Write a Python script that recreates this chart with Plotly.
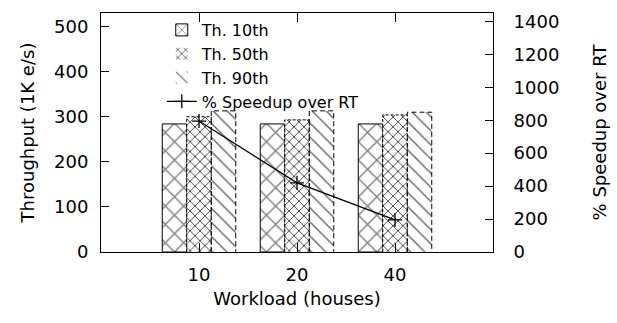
import plotly.graph_objects as go

# ---- data ----
workload = ["10", "20", "40"]
th10 = [284, 284, 284]
th50 = [300, 293, 304]
th90 = [313, 313, 310]
speedup = [795, 420, 195]
left_ticks = [0, 100, 200, 300, 400, 500]
right_ticks = [0, 200, 400, 600, 800, 1000, 1200, 1400]

pos = list(range(len(workload)))
bar_w = 0.25
offsets = [-0.375, -0.125, 0.125]

FONT = "DejaVu Sans"
FS = 18
LFS = 16

fig = go.Figure()

series = [
    ("Th. 10th", th10, dict(shape="x", size=13, solidity=0.2, fgcolor="black", bgcolor="white"), 1),
    ("Th. 50th", th50, dict(shape="x", size=7, solidity=0.22, fgcolor="black", bgcolor="white", fgopacity=0.85), 0),
    ("Th. 90th", th90, dict(shape="\\", size=10, solidity=0.14, fgcolor="black", bgcolor="white", fgopacity=0.6), 0),
]
for (name, vals, pat, lw), off in zip(series, offsets):
    fig.add_trace(go.Bar(
        name=name, x=pos, y=vals, width=bar_w, offset=off,
        marker=dict(color="white", pattern=pat, line=dict(color="black", width=lw)),
        xaxis="x", yaxis="y",
    ))

# dashed outlines for the 50th / 90th bars, derived from the data
for (name, vals, pat, lw), off, dash in zip(series[1:], offsets[1:], ["3px,2px", "5px,3px"]):
    xs, ys = [], []
    for p, v in zip(pos, vals):
        x0 = p + off
        x1 = x0 + bar_w
        xs += [x0, x0, x1, x1, None]
        ys += [0, v, v, 0, None]
    fig.add_trace(go.Scatter(x=xs, y=ys, mode="lines", showlegend=False,
                             line=dict(color="black", width=1, dash=dash),
                             xaxis="x", yaxis="y", hoverinfo="skip"))

fig.add_trace(go.Scatter(
    name="% Speedup over RT", x=pos, y=speedup, mode="lines+markers",
    line=dict(color="black", width=1.3),
    marker=dict(symbol="cross-thin", size=10, line=dict(color="black", width=1.3)),
    xaxis="x", yaxis="y2",
))

axis_common = dict(showgrid=False, zeroline=False, linecolor="black", linewidth=1,
                   tickcolor="black", tickfont=dict(family=FONT, size=FS, color="black"),
                   automargin=False)

fig.update_layout(
    width=617, height=323,
    margin=dict(l=101, r=124, t=13, b=71),
    paper_bgcolor="white", plot_bgcolor="white",
    barmode="overlay",
    font=dict(family=FONT, size=FS, color="black"),
    showlegend=True,
    legend=dict(x=0.155, y=1.0, xanchor="left", yanchor="top",
                bgcolor="rgba(0,0,0,0)", font=dict(family=FONT, size=LFS),
                tracegroupgap=0, itemwidth=30),
    xaxis=dict(range=[-1, 3], tickvals=pos, ticktext=workload,
               ticks="inside", ticklen=9,
               showline=True, mirror="ticks",
               title=dict(text="Workload (houses)", standoff=8,
                          font=dict(family=FONT, size=FS)),
               ticklabelstandoff=6, **axis_common),
    yaxis=dict(range=[0, 530], tickvals=left_ticks, ticks="inside", ticklen=8,
               showline=True,
               title=dict(text="Throughput (1K e/s)", standoff=14,
                          font=dict(family=FONT, size=FS)),
               ticklabelstandoff=8, **axis_common),
    yaxis2=dict(range=[0, 1451], tickvals=right_ticks, overlaying="y", side="right",
                anchor="x", ticks="inside", ticklen=8, showline=True,
                title=dict(text="% Speedup over RT", standoff=34,
                           font=dict(family=FONT, size=FS)),
                ticklabelstandoff=16, **axis_common),
)

fig.write_html("out.html", config={"displayModeBar": False})
